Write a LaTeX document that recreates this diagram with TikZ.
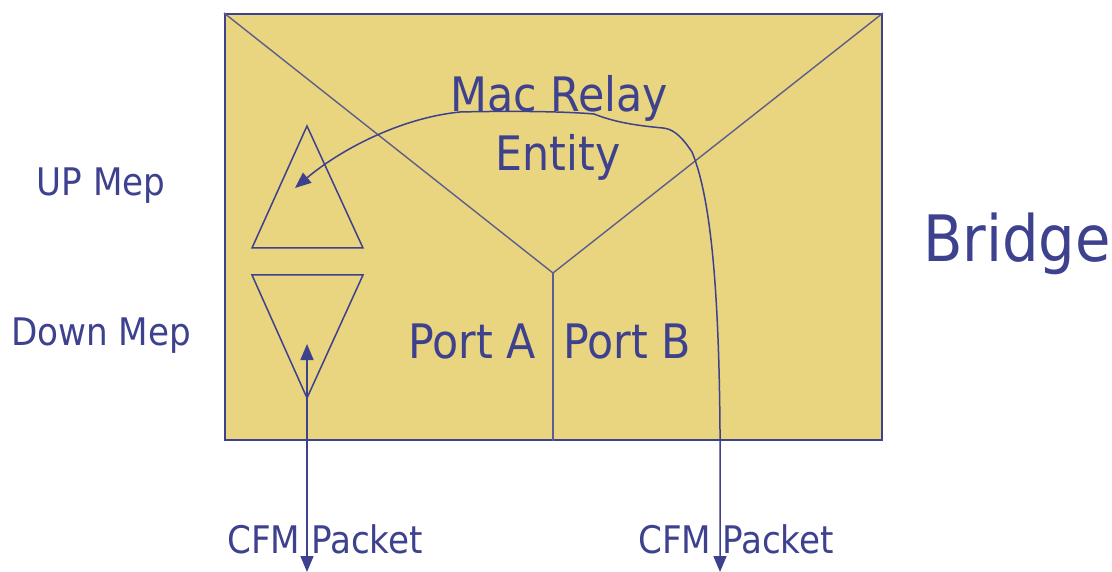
\documentclass[tikz,border=0pt]{standalone}
\usepackage{fontspec}
\setmainfont{DejaVu Sans Condensed}
\usetikzlibrary{arrows.meta}

\definecolor{bridgefill}{HTML}{E9D47F}
\definecolor{bridgeblue}{HTML}{3D418E}
\definecolor{lineblue}{HTML}{5C5F8C}

\begin{document}
\begin{tikzpicture}[x=1pt,y=-1pt]
        \tikzstyle{every node}=[text=bridgeblue, inner sep=0pt]
        \tikzstyle{label}=[font=\fontsize{47.5}{52}\selectfont, anchor=base]
        \tikzstyle{side}=[font=\fontsize{38}{42}\selectfont, anchor=base]
        \tikzstyle{thinline}=[draw=lineblue, line width=1.4pt]
        \tikzstyle{mep}=[draw=bridgeblue, line width=1.5pt, line join=miter]
        \tikzstyle{link}=[draw=bridgeblue, line width=1.5pt, {Triangle[length=16pt,width=13pt]}-{Triangle[length=16pt,width=13pt]}]

        \useasboundingbox (0,0) rectangle (1112,572);

        \node[draw=bridgeblue, fill=bridgefill, line width=2pt, minimum width=657pt, minimum height=426pt] (bridge) at (553.5,227) {};
        \coordinate (apex) at (553,273);
        \draw[thinline] (bridge.north west) -- (apex) -- (bridge.north east);
        \draw[thinline] (apex) -- (apex |- bridge.south);

        % meps
        \draw[mep] (307,126) -- (363,248) -- (252,248) -- cycle;
        \draw[mep] (252,275) -- (363,275) -- (307,398) -- cycle;

        \node[label] (relay) at (559,112) {Mac Relay};
        \node[label] (entity) at (558,171) {Entity};
        \node[label] (portA) at (472,359) {Port A};
        \node[label] (portB) at (627,359) {Port B};
        \node[side] (upmep) at (101,196) {UP Mep};
        \node[side] (downmep) at (101,345) {Down Mep};
        \node[font=\fontsize{64}{70}\selectfont, anchor=base] (bridgename) at (1017,262) {Bridge};
        \node[side] (cfmA) at (325,553) {CFM Packet};
        \node[side] (cfmB) at (736,553) {CFM Packet};

        \coordinate (inA) at (307,344);
        \coordinate (outA) at (307,572);
        \coordinate (inB) at (295,188);
        \coordinate (outB) at (720,572);

        % packets
        \draw[link] (outA) -- (inA);
        \draw[link] (outB) -- (720,430) .. controls (719,300) and (712,200) .. (692,152)
            .. controls (680,134) and (672,129) .. (663,128)
            .. controls (630,125) and (612,121) .. (594,114)
            .. controls (560,111) and (500,111) .. (460,112)
            .. controls (400,118) and (340,150) .. (inB);

    \end{tikzpicture}
\end{document}
